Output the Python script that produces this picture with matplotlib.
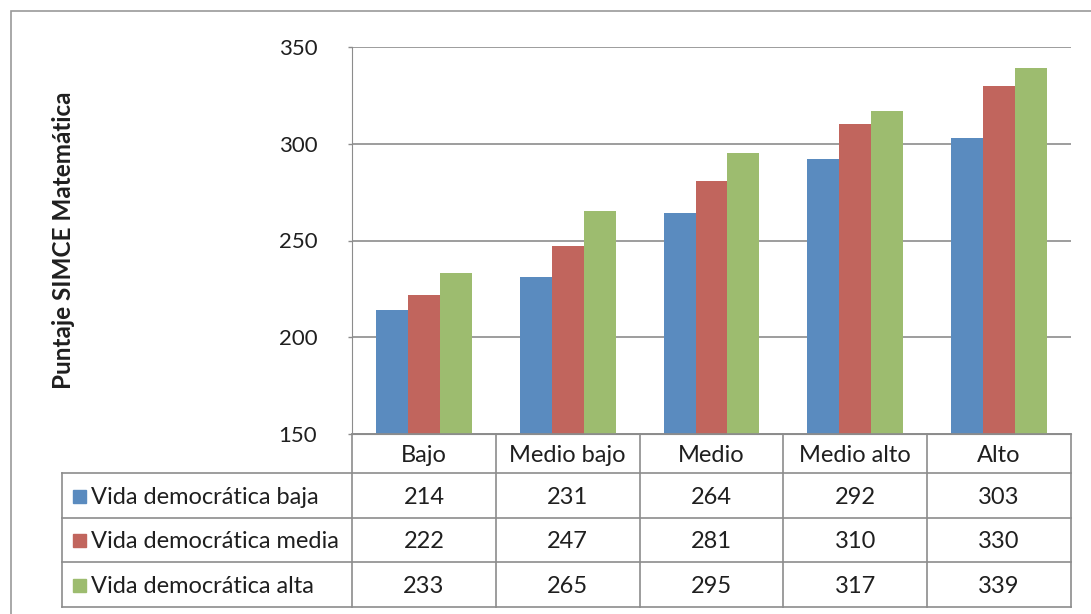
import matplotlib
matplotlib.use("Agg")
import matplotlib.pyplot as plt
from matplotlib.patches import Rectangle
import numpy as np

categories = ["Bajo", "Medio bajo", "Medio", "Medio alto", "Alto"]
series_names = ["Vida democrática baja", "Vida democrática media",
                "Vida democrática alta"]
baja = [214, 231, 264, 292, 303]
media = [222, 247, 281, 310, 330]
alta = [233, 265, 295, 317, 339]
yticks = [150, 200, 250, 300, 350]
ylabel = "Puntaje SIMCE Matemática"

colors = ["#5A8BBF", "#C1655D", "#9DBC6F"]
grid_c = "#8C8C8C"
text_c = "#1F1F1F"

plt.rcParams["font.family"] = ["Lato", "DejaVu Sans"]

W, H = 1091, 614
fig = plt.figure(figsize=(W / 100, H / 100), dpi=100)


def fx(px):
    return px / W


def fy(py):
    return 1 - py / H


# plot area in pixels
pl, pr, pt, pb = 352, 1071, 47, 434
ax = fig.add_axes([fx(pl), fy(pb), fx(pr - pl), (pb - pt) / H])

x = np.arange(len(categories))
bw = 0.222
for i, (vals, c) in enumerate(zip([baja, media, alta], colors)):
    ax.bar(x + (i - 1) * bw, np.array(vals) - yticks[0], bw,
           bottom=yticks[0], color=c, zorder=3, linewidth=0)

ax.set_xlim(-0.5, len(categories) - 0.5)
ax.set_ylim(yticks[0], yticks[-1])
ax.set_yticks(yticks)
ax.set_yticklabels([str(t) for t in yticks], fontsize=16, color=text_c)
ax.tick_params(axis="y", length=3, width=1, color=grid_c, pad=22)
ax.tick_params(axis="x", length=0, labelbottom=False)
ax.yaxis.grid(True, color=grid_c, linewidth=1.2)
ax.set_axisbelow(True)
for s in ["top", "right"]:
    ax.spines[s].set_visible(False)
ax.spines["left"].set_color(grid_c)
ax.spines["bottom"].set_color(grid_c)

ax.set_ylabel(ylabel, fontsize=17.5, fontweight="bold", color=text_c)
ax.yaxis.set_label_coords((75 - pl) / (pr - pl), 0.5)

# data table under the plot
tl, tt, tb = 62, 434, 607
rows = [434, 473, 518, 562, 607]
tab = fig.add_axes([fx(tl), fy(tb), fx(pr - tl), (tb - tt) / H])
tab.set_xlim(tl, pr)
tab.set_ylim(tb, tt)
tab.axis("off")
cw = (pr - pl) / len(categories)
lk = dict(color=grid_c, linewidth=1.2, clip_on=False)

# horizontal lines
tab.plot([pl, pr], [rows[0], rows[0]], **lk)
for r in rows[1:]:
    tab.plot([tl, pr], [r, r], **lk)
# vertical lines
tab.plot([tl, tl], [rows[1], rows[-1]], **lk)
for k in range(len(categories) + 1):
    xx = pl + k * cw
    tab.plot([xx, xx], [rows[0], rows[-1]], **lk)

fs = 17
for k, cat in enumerate(categories):
    cx = pl + (k + 0.5) * cw
    tab.text(cx, (rows[0] + rows[1]) / 2 + 2, cat, ha="center", va="center",
             fontsize=fs, color=text_c)
for j, (name, vals, c) in enumerate(zip(series_names, [baja, media, alta],
                                        colors)):
    cy = (rows[j + 1] + rows[j + 2]) / 2
    tab.add_patch(Rectangle((73, cy - 6), 13, 13, color=c, clip_on=False))
    tab.text(91, cy + 2, name, ha="left", va="center", fontsize=fs,
             color=text_c)
    for k, v in enumerate(vals):
        cx = pl + (k + 0.5) * cw
        tab.text(cx, cy + 2, str(v), ha="center", va="center", fontsize=fs,
                 color=text_c)

# outer chart border
fig.patches.append(Rectangle((fx(11), fy(H + 5)), fx(W), (H - 6) / H,
                             transform=fig.transFigure, fill=False,
                             edgecolor="#9A9A9A", linewidth=1.2))

fig.savefig("out.png", dpi=100)
